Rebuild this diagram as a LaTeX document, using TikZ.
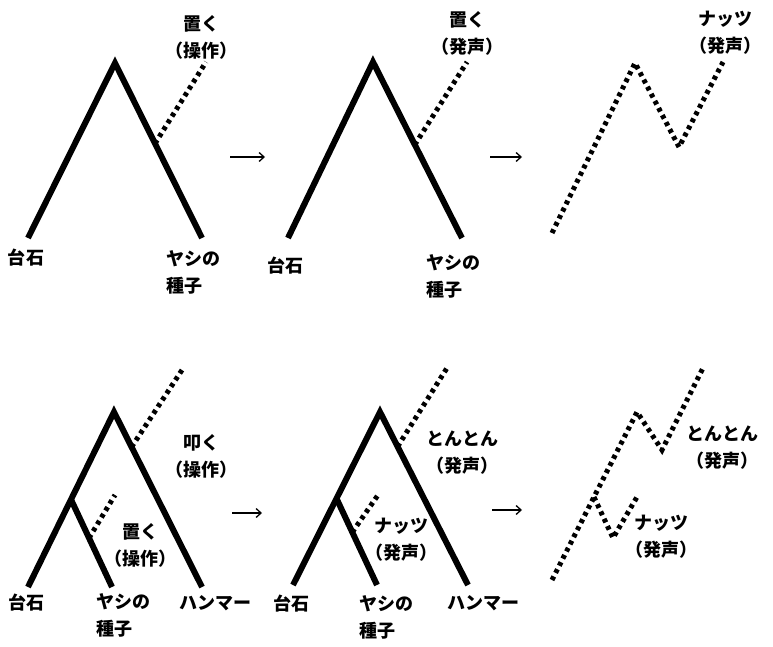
\documentclass[tikz,border=0pt]{standalone}
\usepackage{fontspec}
\newfontfamily\jpfont{Noto Sans CJK JP}
\usepackage{tikz}
\usetikzlibrary{arrows.meta,calc}
\tikzset{
    branch/.style={line width=6pt,line join=miter},
    voice/.style={line width=5pt,dash pattern=on 4pt off 4pt},
    goes/.style={-{Straight Barb[length=5pt,width=9pt]},line width=1.3pt},
    lbl/.style={inner sep=0pt,font=\jpfont\bfseries\fontsize{18}{27}\selectfont},
    note/.style={lbl,align=center},
    obj/.style={lbl,align=left,anchor=west},
}

\begin{document}
\begin{tikzpicture}[x=1pt,y=-1pt]
\useasboundingbox (0,0) rectangle (773,647);

% top row: placing
\coordinate (t1) at (115,63);
\coordinate (b1) at (28,238);
\coordinate (s1) at (202,238);
\draw[branch] (b1) -- (t1) -- (s1);
\coordinate (j1) at ($(t1)!0.46!(s1)$);
\coordinate (e1) at (206,62);
\draw[voice] (j1) -- (e1);
\node[note] (n1) at (201,37.5) {置く\\（操作）};
\node[lbl] (stone1) at (26,258) {台石};
\node[obj] (seed1) at (166,272.5) {ヤシの\\種子};

\coordinate (a1s) at (230,157);
\coordinate (a1e) at (265,157);
\draw[goes] (a1s) -- (a1e);

\coordinate (t2) at (373,62);
\coordinate (b2) at (288,238);
\coordinate (s2) at (462,238);
\draw[branch] (b2) -- (t2) -- (s2);
\coordinate (j2) at ($(t2)!0.47!(s2)$);
\coordinate (e2) at (467,62);
\draw[voice] (j2) -- (e2);
\node[note] (n2) at (467,33.5) {置く\\（発声）};
\node[lbl] (stone2) at (285,266) {台石};
\node[obj] (seed2) at (426,276) {ヤシの\\種子};

\coordinate (a2s) at (490,157);
\coordinate (a2e) at (522,157);
\draw[goes] (a2s) -- (a2e);

\coordinate (v3a) at (552,233);
\coordinate (v3b) at (635,63);
\coordinate (v3c) at (679,147);
\coordinate (v3d) at (723,62);
\draw[voice] (v3a) -- (v3b) -- (v3c) -- (v3d);
\node[note] (n3) at (725,33) {ナッツ\\（発声）};

% bottom row: hitting
\coordinate (t4) at (114,412);
\coordinate (b4) at (28,587);
\coordinate (h4) at (202,587);
\coordinate (k4) at ($(t4)!0.5!(b4)$);
\coordinate (s4) at (112,587);
\draw[branch] (b4) -- (t4) -- (h4);
\draw[branch] (k4) -- (s4);
\coordinate (j4) at ($(t4)!0.2!(h4)$);
\coordinate (e4) at (182,370);
\draw[voice] (j4) -- (e4);
\coordinate (i4) at ($(k4)!0.44!(s4)$);
\coordinate (f4) at (115,495);
\draw[voice] (i4) -- (f4);
\node[note] (n4) at (201,456) {叩く\\（操作）};
\node[note] (m4) at (140,545) {置く\\（操作）};
\node[lbl] (stone4) at (27,603) {台石};
\node[obj] (seed4) at (96,615.5) {ヤシの\\種子};
\node[lbl] (ham4) at (215,603) {ハンマー};

\coordinate (a3s) at (232,513);
\coordinate (a3e) at (262,513);
\draw[goes] (a3s) -- (a3e);

\coordinate (t5) at (380,412);
\coordinate (b5) at (293,585);
\coordinate (h5) at (468,585);
\coordinate (k5) at ($(t5)!0.5!(b5)$);
\coordinate (s5) at (377,585);
\draw[branch] (b5) -- (t5) -- (h5);
\draw[branch] (k5) -- (s5);
\coordinate (j5) at ($(t5)!0.2!(h5)$);
\coordinate (e5) at (447,368);
\draw[voice] (j5) -- (e5);
\coordinate (i5) at ($(k5)!0.39!(s5)$);
\coordinate (f5) at (378,495);
\draw[voice] (i5) -- (f5);
\node[note] (n5) at (462,453) {とんとん\\（発声）};
\node[note] (m5) at (401,540) {ナッツ\\（発声）};
\node[lbl] (stone5) at (291,604) {台石};
\node[obj] (seed5) at (359,617) {ヤシの\\種子};
\node[lbl] (ham5) at (483,603) {ハンマー};

\coordinate (a4s) at (492,510);
\coordinate (a4e) at (522,510);
\draw[goes] (a4s) -- (a4e);

\coordinate (v6a) at (552,580);
\coordinate (v6b) at (637,412);
\coordinate (v6c) at (662,450);
\coordinate (v6d) at (703,368);
\draw[voice] (v6a) -- (v6b) -- (v6c) -- (v6d);
\coordinate (w6a) at ($(v6a)!0.494!(v6b)$);
\coordinate (w6b) at (613,538);
\coordinate (w6c) at (637,497);
\draw[voice] (w6a) -- (w6b) -- (w6c);
\node[note] (n6) at (722,448) {とんとん\\（発声）};
\node[note] (m6) at (661,537) {ナッツ\\（発声）};
\end{tikzpicture}
\end{document}
